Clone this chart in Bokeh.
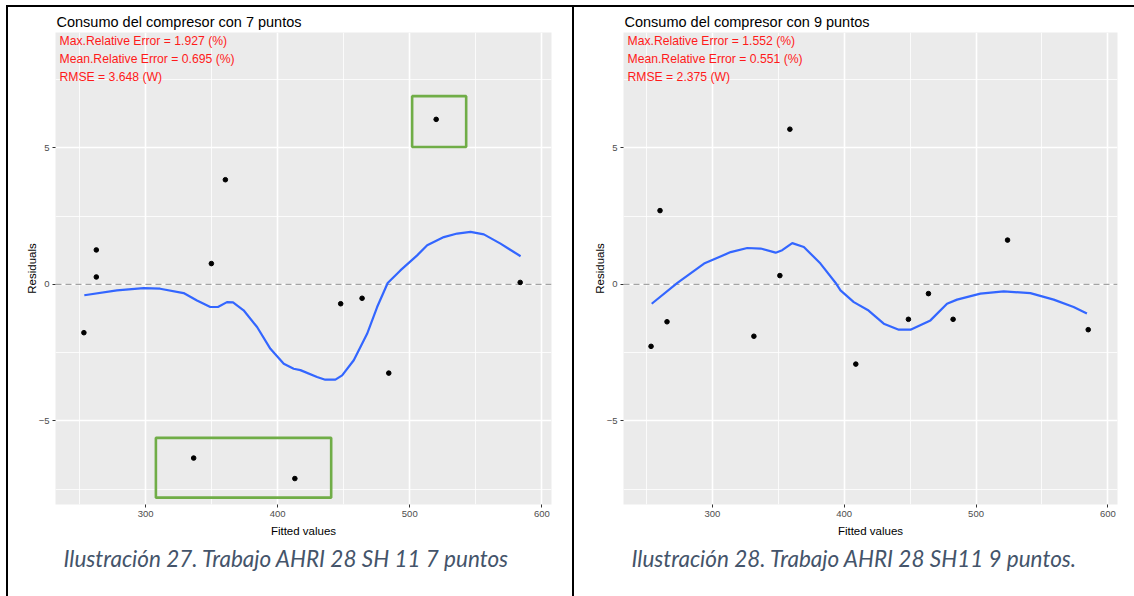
from bokeh.plotting import figure
from bokeh.layouts import row, column
from bokeh.models import FixedTicker, Label, Range1d, Title, Div
from bokeh.embed import file_html
from bokeh.resources import INLINE

# ---------------- data ----------------
titles = ["Consumo del compresor con 7 puntos", "Consumo del compresor con 9 puntos"]
captions = ["Ilustración 27. Trabajo AHRI 28 SH 11 7 puntos",
            "Ilustración 28. Trabajo AHRI 28 SH11 9 puntos."]
stats_left = ["Max.Relative Error = 1.927 (%)", "Mean.Relative Error = 0.695 (%)", "RMSE = 3.648 (W)"]
stats_right = ["Max.Relative Error = 1.552 (%)", "Mean.Relative Error = 0.551 (%)", "RMSE = 2.375 (W)"]

x_ticks = [300, 400, 500, 600]
x_minor = [250, 350, 450, 550]
y_ticks = [-5, 0, 5]
y_minor = [-7.5, -2.5, 2.5, 7.5]

left_fitted = [253.3, 262.7, 262.7, 336.4, 349.8, 360.4, 413.0, 447.7, 463.9, 484.1, 520.0, 583.6]
left_resid = [-1.77, 1.26, 0.27, -6.36, 0.76, 3.83, -7.11, -0.71, -0.51, -3.25, 6.04, 0.07]
left_smooth_x = [253.6, 278.3, 298.5, 311.0, 328.8, 338.9, 349.0, 354.8, 361.6, 366.2, 374.2, 384.4,
                 394.5, 404.6, 412.1, 417.2, 429.8, 436.0, 443.7, 448.8, 457.6, 467.7, 475.3, 483.3,
                 492.9, 505.6, 513.2, 525.8, 535.9, 546.0, 556.1, 568.7, 583.9]
left_smooth_y = [-0.40, -0.22, -0.14, -0.16, -0.32, -0.59, -0.83, -0.83, -0.65, -0.66, -0.95, -1.56,
                 -2.36, -2.91, -3.09, -3.14, -3.39, -3.49, -3.49, -3.33, -2.78, -1.81, -0.83, 0.05,
                 0.51, 1.06, 1.43, 1.73, 1.86, 1.92, 1.83, 1.49, 1.03]

right_fitted = [253.5, 260.3, 265.6, 331.5, 351.2, 358.8, 408.8, 448.7, 463.9, 482.6, 523.9, 585.1]
right_resid = [-2.27, 2.70, -1.37, -1.90, 0.32, 5.68, -2.92, -1.28, -0.34, -1.28, 1.62, -1.66]
right_smooth_x = [254.0, 273.5, 293.7, 313.9, 326.5, 336.6, 348.0, 353.0, 360.6, 369.4, 382.0, 393.4,
                  397.2, 407.3, 418.5, 430.0, 441.4, 450.3, 465.4, 478.0, 485.6, 503.3, 521.0, 541.2,
                  558.9, 574.0, 584.1]
right_smooth_y = [-0.71, 0.05, 0.76, 1.18, 1.33, 1.31, 1.16, 1.25, 1.51, 1.37, 0.76, 0.06,
                  -0.22, -0.65, -0.96, -1.44, -1.66, -1.66, -1.32, -0.71, -0.56, -0.34, -0.26, -0.32,
                  -0.56, -0.83, -1.07]

# highlight boxes (left panel only)
hl_x0 = [501.8, 307.8]
hl_x1 = [542.7, 440.5]
hl_y0 = [5.03, -7.81]
hl_y1 = [6.89, -5.62]

TOP_OFFSET = 7          # figures start below the table's top border
H = 596 - TOP_OFFSET
FRAME_TOP = 32 - TOP_OFFSET
FRAME_BOTTOM = 504 - TOP_OFFSET


def make_panel(width, fl, fr, xr, fitted, resid, sx, sy, title, stats, caption, cap_offset):
    p = figure(width=width, height=H, x_range=Range1d(*xr), y_range=Range1d(-8.06, 9.22),
               output_backend="svg", toolbar_location=None, title=None,
               background_fill_color="#EBEBEB", border_fill_color="white",
               outline_line_color=None,
               min_border_left=fl, min_border_right=width - fr,
               min_border_top=FRAME_TOP, min_border_bottom=H - FRAME_BOTTOM)
    p.xaxis.ticker = FixedTicker(ticks=x_ticks, minor_ticks=x_minor)
    p.yaxis.ticker = FixedTicker(ticks=y_ticks, minor_ticks=y_minor)
    for ax in (p.xaxis, p.yaxis):
        ax.axis_line_color = None
        ax.major_tick_line_color = "#333333"
        ax.major_tick_line_width = 1
        ax.major_tick_out = 3
        ax.major_tick_in = 0
        ax.minor_tick_line_color = None
        ax.major_label_text_color = "#4D4D4D"
        ax.major_label_text_font = "Liberation Sans"
        ax.major_label_text_font_size = "9.5px"
        ax.major_label_standoff = 2
        ax.axis_label_text_font = "Liberation Sans"
        ax.axis_label_text_font_size = "11.5px"
        ax.axis_label_text_font_style = "normal"
        ax.axis_label_text_color = "black"
    p.xaxis.axis_label = "Fitted values"
    p.yaxis.axis_label = "Residuals"
    p.xaxis.axis_label_standoff = 5
    p.yaxis.axis_label_standoff = -2
    for g in (p.xgrid, p.ygrid):
        g.grid_line_color = "white"
        g.grid_line_width = 1.6
        g.minor_grid_line_color = "white"
        g.minor_grid_line_width = 0.8

    p.line(x=[xr[0], xr[1]], y=[0, 0], line_color="#A3A3A3", line_width=1.3, line_dash="6 4")
    p.line(x=sx, y=sy, line_color="#3366FF", line_width=2.2)
    p.scatter(x=fitted, y=resid, size=4.6, color="black")

    # panel title (above) and figure caption (below)
    p.add_layout(Title(text=title, align="left", offset=1, standoff=5,
                       text_font="Liberation Sans", text_font_size="14.5px",
                       text_font_style="normal", text_color="black"), "above")
    p.add_layout(Title(text=caption, align="left", offset=cap_offset, standoff=7,
                       text_font="Lato", text_font_size="22.5px",
                       text_font_style="italic", text_color="#44546A"), "below")

    for i, s in enumerate(stats):
        p.add_layout(Label(x=4, y=(FRAME_BOTTOM - FRAME_TOP) - 8.5 - 17.8 * i,
                           x_units="screen", y_units="screen", text=s, text_baseline="middle",
                           text_font="Liberation Sans", text_font_size="12.2px",
                           text_color="#FF1A1A"))
    return p


def bar(w, h, color):
    return Div(width=w, height=h, styles={"background-color": color, "margin": "0", "padding": "0"})


p1 = make_panel(564, 47, 543, (231.8, 607.3), left_fitted, left_resid, left_smooth_x, left_smooth_y,
                titles[0], stats_left, captions[0], 8)
p1.quad(left=hl_x0, right=hl_x1, bottom=hl_y0, top=hl_y1, fill_alpha=0,
        line_color="#70AD47", line_width=2.6)

p2 = make_panel(560, 49, 543, (232.6, 607.3), right_fitted, right_resid, right_smooth_x, right_smooth_y,
                titles[1], stats_right, captions[1], 8)

layout = column(
    bar(1134, 5, "white"),
    row(bar(6, 2, "white"), bar(1128, 2, "black"), spacing=0),
    row(bar(6, H, "white"), bar(2, H, "black"), p1, bar(2, H, "black"), p2, spacing=0),
    spacing=0,
)
open("out.html", "w").write(file_html(layout, INLINE))
